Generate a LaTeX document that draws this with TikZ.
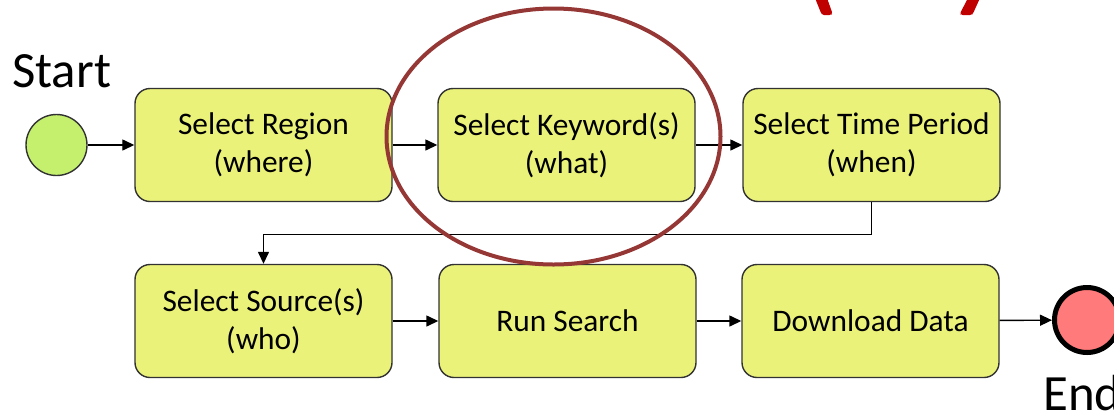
\documentclass[tikz,border=0pt]{standalone}
\usepackage{fontspec}
\setmainfont{Carlito}
\usetikzlibrary{arrows.meta}

\definecolor{boxfill}{RGB}{235,242,122}
\definecolor{boxline}{RGB}{50,50,50}
\definecolor{startfill}{RGB}{196,240,110}
\definecolor{endfill}{RGB}{255,122,122}
\definecolor{ringred}{RGB}{149,55,53}
\definecolor{markred}{RGB}{192,0,0}

\newcommand*{\stepfont}{\fontsize{31.5}{38.5}\selectfont}
\newcommand*{\eventfont}{\fontsize{51}{60}\selectfont}

\begin{document}
\begin{tikzpicture}[x=1bp,y=-1bp,
  stepbox/.style={draw=boxline, line width=1.4bp, fill=boxfill,
    rounded corners=15bp, minimum width=257bp, minimum height=113bp,
    inner sep=0pt, align=center, font=\stepfont, text=black},
  flow/.style={draw=black, line width=1.4bp, -{Triangle[length=12bp,width=11bp]}},
  eventlabel/.style={anchor=base west, inner sep=0pt, font=\eventfont, text=black},
]
\useasboundingbox (0,0) rectangle (1114,414);

% process steps
\node[stepbox] (region)   at (263.5,145) {Select Region\\(where)};
\node[stepbox] (keyword)  at (566.5,145) {Select Keyword(s)\\(what)};
\node[stepbox] (period)   at (871.5,145) {Select Time Period\\(when)};
\node[stepbox] (source)   at (263.5,321) {Select Source(s)\\(who)};
\node[stepbox] (search)   at (567.5,321) {Run Search};
\node[stepbox] (download) at (870.5,321) {Download Data};

% start and end events
\node[circle, draw=boxline, line width=1.4bp, fill=startfill,
      minimum size=61bp, inner sep=0pt] (start) at (56.5,145) {};
\node[circle, draw=black, line width=5bp, fill=endfill,
      minimum size=65bp, inner sep=0pt] (finish) at (1087,320) {};
\node[eventlabel] (startlabel) at (12,87) {Start};
\node[eventlabel] (endlabel) at (1043,410) {End};

% sequence flow
\draw[flow] (start) -- (region);
\draw[flow] (region) -- (keyword);
\draw[flow] (keyword) -- (period);
\draw[flow] (period.south) -- ++(0,32) -| (source.north);
\draw[flow] (source) -- (search);
\draw[flow] (search) -- (download);
\draw[flow] (download) -- (finish);

% highlight ring around the keyword step
\draw[ringred, line width=4bp] (553.5,136.5) ellipse [x radius=167, y radius=128];

% red bracket strokes at the top edge
\fill[markred, rounded corners=1.5bp] (815,-2) -- (827,-2) -- (832.5,13.5) -- (831,15) -- (822.5,15) -- (821,13) -- cycle;
\fill[markred, rounded corners=1.5bp] (968,-2) -- (980,-2) -- (973,13.5) -- (971.5,15) -- (961,15) -- (960,13.5) -- cycle;
\end{tikzpicture}
\end{document}
